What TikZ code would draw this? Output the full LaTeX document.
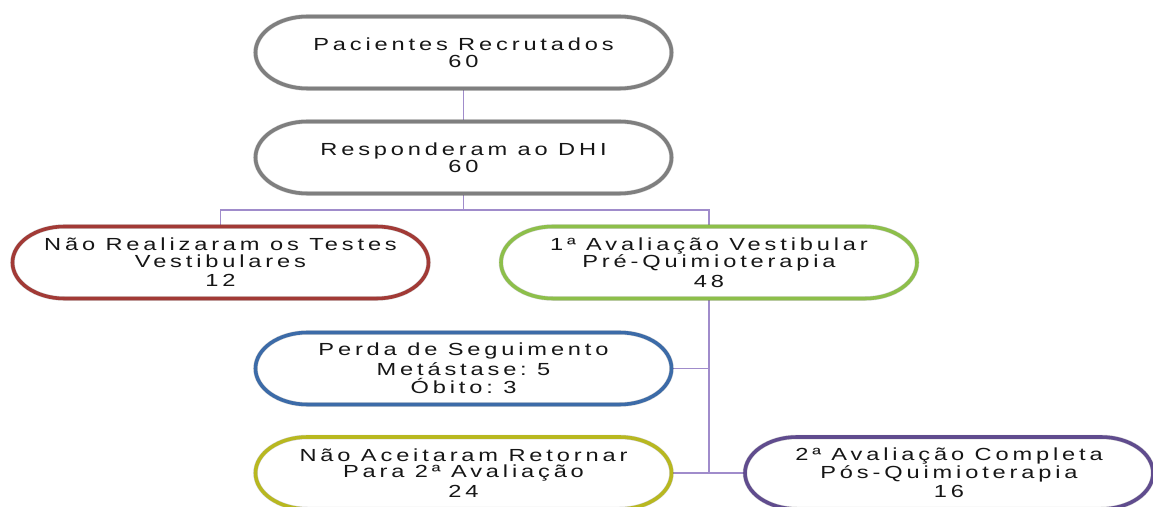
\documentclass[tikz,border=0pt]{standalone}
\usepackage{fontspec}
\setmainfont{Liberation Sans}[FakeStretch=1.35, LetterSpace=22]
\usetikzlibrary{calc}
\definecolor{cgray}{HTML}{7F7F7F}
\definecolor{cred}{HTML}{A23A36}
\definecolor{cgreen}{HTML}{8DBF4A}
\definecolor{cblue}{HTML}{3C6BA8}
\definecolor{colive}{HTML}{B8B820}
\definecolor{cpurple}{HTML}{604C8E}
\definecolor{cline}{HTML}{A08CCB}
\definecolor{ctext}{HTML}{161616}
\tikzset{
  box/.style={rectangle, draw=none, fill=none, outer sep=0pt,
    minimum width=416pt, minimum height=72pt, align=center, text=ctext,
    font=\fontsize{17.5}{16.5}\selectfont, inner sep=2pt},
  conn/.style={draw=cline, line width=1.6pt},
  rim/.style={line width=3.6pt}
}
\newcommand\stadpath[1]{($(#1.north west)+(52,0)$) -- ($(#1.north east)+(-52,0)$)
  arc[start angle=90,end angle=-90,x radius=52pt,y radius=36pt]
  -- ($(#1.south west)+(52,0)$)
  arc[start angle=270,end angle=90,x radius=52pt,y radius=36pt] -- cycle}
\newcommand\stad[2]{%
  \draw[black, opacity=0.18, line width=4.5pt, shift={(1.5,2.5)}] \stadpath{#1};
  \draw[#2, rim] \stadpath{#1};}
\begin{document}
\begin{tikzpicture}[x=1pt,y=-1pt]
\useasboundingbox (0,0) rectangle (1153,506);
\clip (0,0) rectangle (1153,506);
\fill[white] (0,0) rectangle (1153,506);
\node[box] (b1) at (463.5,52.5) {};
\node[box] (b2) at (463.5,157.5) {};
\node[box] (b3) at (220.5,262.5) {};
\node[box] (b4) at (709,262.5) {};
\node[box] (b5) at (463.5,368.5) {};
\node[box] (b6) at (463.5,473) {};
\node[box, minimum width=408pt] (b7) at (949,473) {};
\coordinate (j) at (b2.south |- 0,210);
\draw[conn] (b1.south) -- (b2.north);
\draw[conn] (b2.south) -- (j);
\draw[conn] (j) -| (b3.north);
\draw[conn] (j) -| (b4.north);
\draw[conn] (b4.south) |- (b5.east);
\draw[conn] (b4.south) |- (b6.east);
\draw[conn] (b4.south) |- (b7.west);
\stad{b1}{cgray}
\stad{b2}{cgray}
\stad{b3}{cred}
\stad{b4}{cgreen}
\stad{b5}{cblue}
\stad{b6}{colive}
\stad{b7}{cpurple}
\node[box] at (b1) {Pacientes Recrutados\\[1pt]60};
\node[box] at (b2) {Responderam ao DHI\\[1pt]60};
\node[box] at (b3) {Não Realizaram os Testes\\Vestibulares\\[3pt]12};
\node[box] at (b4) {1ª Avaliação Vestibular\\Pré-Quimioterapia\\[3pt]48};
\node[box] at (b5) {Perda de Seguimento\\[2pt]Metástase:\ 5\\[2pt]Óbito:\ 3};
\node[box] at (b6) {Não Aceitaram Retornar\\Para 2ª Avaliação\\[3pt]24};
\node[box, minimum width=408pt] at (b7) {2ª Avaliação Completa\\Pós-Quimioterapia\\[3pt]16};
\end{tikzpicture}
\end{document}
